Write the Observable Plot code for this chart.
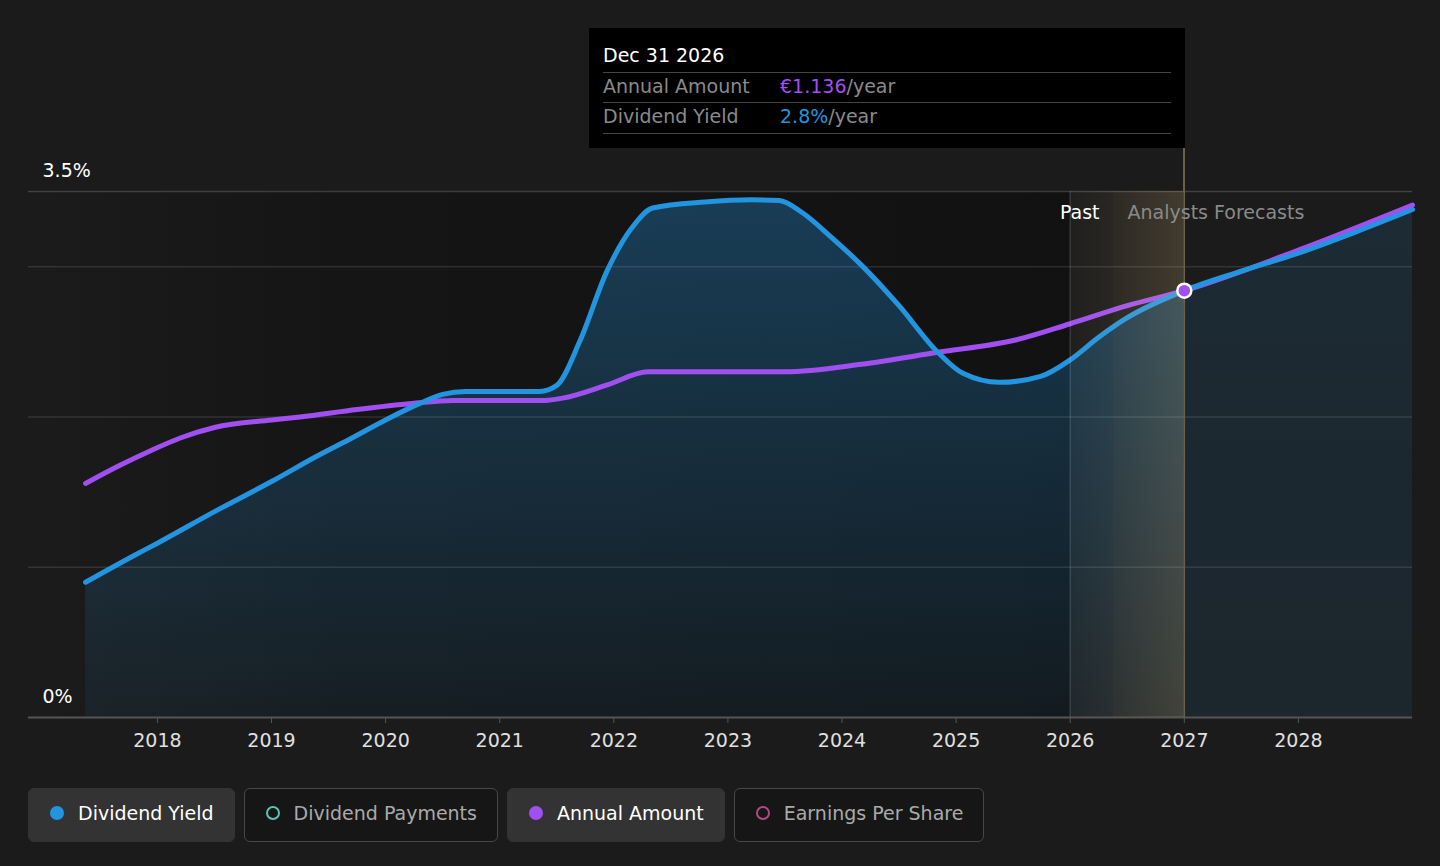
<!DOCTYPE html>
<html>
<head>
<meta charset="utf-8">
<script src="https://cdn.jsdelivr.net/npm/d3@7"></script>
<script src="https://cdn.jsdelivr.net/npm/@observablehq/plot@0.6"></script>
<style>
  html, body { margin: 0; padding: 0; background: #1b1b1b; width: 1440px; height: 866px; overflow: hidden; font-family: "DejaVu Sans", sans-serif; }
  #wrap { position: relative; width: 1440px; height: 866px; }
  #chart { position: absolute; left: 0; top: 0; }
  .tip { position: absolute; left: 589px; top: 28px; width: 596px; height: 120px; background: #000; }
  .tip .t { position: absolute; left: 14px; font-size: 19px; line-height: 22px; white-space: nowrap; }
  .tip .hr { position: absolute; left: 14px; width: 568px; height: 1px; background: #444; }
  .tip .lab { color: #8a8a8a; }
  .tip .val { position: absolute; left: 191px; font-size: 19px; line-height: 22px; color: #8a8a8a; white-space: nowrap; }
  .conn { position: absolute; top: 148px; height: 43px; width: 1.5px; background: #6b604a; }
  .legend { position: absolute; left: 28px; top: 788px; display: flex; gap: 9px; }
  .btn { box-sizing: border-box; height: 54px; border-radius: 6px; display: flex; align-items: center; padding: 0 20px 5px 21px; font-size: 19px; white-space: nowrap; }
  .btn.on { background: #333; color: #fff; border: 1.5px solid #333; }
  .btn.off { background: #161616; color: #aaa; border: 1.5px solid #474747; }
  .sw { width: 14px; height: 14px; border-radius: 50%; margin-right: 14px; box-sizing: border-box; flex: none; }
</style>
</head>
<body>
<div id="wrap">
  <div id="chart"></div>
</div>
<script>
// ---- data ----
const yieldYears = [2017.37, 2017.8, 2018.0, 2018.5, 2019.0, 2019.4, 2019.68, 2020.0, 2020.3, 2020.5, 2020.7, 2021.0, 2021.35, 2021.5, 2021.7, 2021.94, 2022.16, 2022.34, 2022.8, 2023.2, 2023.45, 2023.65, 2023.9, 2024.17, 2024.5, 2024.84, 2025.06, 2025.38, 2025.74, 2026.0, 2026.25, 2026.5, 2027.0, 2027.5, 2028.0, 2028.5, 2029.0];
const yieldPct   = [0.90, 1.08, 1.16, 1.37, 1.57, 1.74, 1.85, 1.98, 2.09, 2.15, 2.17, 2.17, 2.17, 2.21, 2.50, 2.97, 3.26, 3.39, 3.43, 3.445, 3.44, 3.36, 3.20, 3.01, 2.74, 2.43, 2.29, 2.23, 2.27, 2.38, 2.53, 2.66, 2.84, 2.97, 3.09, 3.23, 3.38];

const amountYears = [2017.37, 2017.65, 2017.94, 2018.2, 2018.5, 2019.0, 2019.25, 2019.75, 2020.23, 2020.59, 2021.4, 2021.55, 2021.95, 2022.3, 2023.5, 2024.17, 2024.84, 2025.51, 2026.0, 2026.5, 2027.0, 2028.0, 2029.0];
const amountEur   = [0.623, 0.668, 0.710, 0.744, 0.772, 0.792, 0.800, 0.820, 0.836, 0.844, 0.844, 0.850, 0.886, 0.920, 0.920, 0.940, 0.972, 1.004, 1.048, 1.096, 1.136, 1.244, 1.364];
const amountAtTop = 1.4;      // € value aligned with the 3.5% top of the yield axis

const xTicks = [2018, 2019, 2020, 2021, 2022, 2023, 2024, 2025, 2026, 2027, 2028];
const yLabels = [0, 3.5];
const gridValues = [1, 2, 3, 3.5];
const xDomain = [2016.87, 2029.0];
const yDomain = [0, 3.5];

const pastEnd = 2026.0;     // start of hovered period
const today = 2026.38;      // past / forecast split
const hoverYear = 2027.0;   // hovered point
const hoverTitle = "Dec 31 2026";

const seriesNames = ["Dividend Yield", "Dividend Payments", "Annual Amount", "Earnings Per Share"];
const seriesColors = ["#2394df", "#5ec2b0", "#a04ff0", "#b04a84"];
const seriesOn = [true, false, true, false];

// ---- tables ----
const yieldData = yieldYears.map((x, i) => ({x, y: yieldPct[i]}));
const amountData = amountYears.map((x, i) => ({x, eur: amountEur[i], y: amountEur[i] / amountAtTop * yDomain[1]}));
const yieldPast = yieldData.filter(d => d.x <= hoverYear);
const yieldFc = yieldData.filter(d => d.x >= hoverYear);
const hoverYield = yieldData.find(d => d.x === hoverYear);
const hoverAmount = amountData.find(d => d.x === hoverYear);

const BLUE = seriesColors[0], PURPLE = seriesColors[2];

const plot = Plot.plot({
  width: 1440,
  height: 760,
  marginLeft: 28,
  marginRight: 28,
  marginTop: 191,
  marginBottom: 43,
  x: {domain: xDomain},
  y: {domain: yDomain, axis: null},
  style: {background: "transparent", fontFamily: "DejaVu Sans, sans-serif", fontSize: "19px", color: "#ddd", overflow: "visible"},
  marks: [
    Plot.rect([{x1: xDomain[0], x2: pastEnd}], {x1: "x1", x2: "x2", y1: () => yDomain[0], y2: () => yDomain[1], fill: "url(#pastBg)"}),
    Plot.areaY(yieldPast, {x: "x", y: "y", curve: "monotone-x", fill: "url(#areaPast)"}),
    Plot.areaY(yieldFc, {x: "x", y: "y", curve: "monotone-x", fill: "url(#areaFc)"}),
    Plot.ruleY(gridValues, {y: d => d, stroke: "#fff", strokeOpacity: d => d === yDomain[1] ? 0.17 : 0.11, strokeWidth: 1.5}),
    Plot.ruleY([0], {stroke: "#555", strokeWidth: 2}),
    Plot.line(amountData, {x: "x", y: "y", curve: "monotone-x", stroke: PURPLE, strokeWidth: 5}),
    Plot.line(yieldData, {x: "x", y: "y", curve: "monotone-x", stroke: BLUE, strokeWidth: 5}),
    Plot.rect([{x1: pastEnd, x2: today}], {x1: "x1", x2: "x2", y1: () => yDomain[0], y2: () => yDomain[1], fill: "url(#bandA)"}),
    Plot.rect([{x1: today, x2: hoverYear}], {x1: "x1", x2: "x2", y1: () => yDomain[0], y2: () => yDomain[1], fill: "url(#bandB)"}),
    Plot.ruleX([pastEnd], {x: d => d, stroke: "#fff", strokeOpacity: 0.12, strokeWidth: 1.5}),
    Plot.ruleX([hoverYear], {x: d => d, stroke: "#6b604a", strokeWidth: 1.5}),
    Plot.dot([hoverYield], {x: "x", y: "y", r: 7, fill: PURPLE, stroke: "#fff", strokeWidth: 2.5}),
    Plot.text(yLabels, {x: () => xDomain[0], y: d => d, text: d => d + "%", dx: 14, dy: -21, textAnchor: "start", fill: "#fff", fontSize: 19}),
    Plot.text(["Past"], {x: () => today, y: () => yDomain[1], text: d => d, dx: -14, dy: 21, textAnchor: "end", fill: "#fff", fontSize: 19}),
    Plot.text(["Analysts Forecasts"], {x: () => today, y: () => yDomain[1], text: d => d, dx: 14, dy: 21, textAnchor: "start", fill: "#8a8a8a", fontSize: 19}),
    Plot.axisX(xTicks, {tickFormat: d => String(d), tickSize: 6, tickPadding: 10, stroke: "#555", fill: "#e0e0e0", fontSize: 19, label: null})
  ]
});

// gradients
const xs = plot.scale("x"), ys = plot.scale("y");
const NS = "http://www.w3.org/2000/svg";
const defs = document.createElementNS(NS, "defs");
function grad(id, x1, y1, x2, y2, stops) {
  const g = document.createElementNS(NS, "linearGradient");
  g.setAttribute("id", id);
  g.setAttribute("gradientUnits", "userSpaceOnUse");
  g.setAttribute("x1", x1); g.setAttribute("y1", y1);
  g.setAttribute("x2", x2); g.setAttribute("y2", y2);
  for (const [off, col, op] of stops) {
    const s = document.createElementNS(NS, "stop");
    s.setAttribute("offset", off);
    s.setAttribute("stop-color", col);
    s.setAttribute("stop-opacity", op);
    g.appendChild(s);
  }
  defs.appendChild(g);
}
const yTop = ys.apply(yDomain[1]), yBot = ys.apply(yDomain[0]);
grad("pastBg", xs.apply(xDomain[0]), 0, xs.apply(pastEnd), 0, [[0, "#000", 0], [0.3, "#000", 0.22], [1, "#000", 0.36]]);
grad("areaPast", 0, yTop, 0, yBot, [[0, BLUE, 0.33], [1, BLUE, 0.07]]);
grad("areaFc", 0, yTop, 0, yBot, [[0, BLUE, 0.13], [1, BLUE, 0.09]]);
grad("bandA", xs.apply(pastEnd), 0, xs.apply(today), 0, [[0, "#ffe0a0", 0.02], [1, "#ffe0a0", 0.06]]);
grad("bandB", xs.apply(today), 0, xs.apply(hoverYear), 0, [[0, "#ffd890", 0.08], [1, "#ffd890", 0.17]]);
plot.insertBefore(defs, plot.firstChild);

document.getElementById("chart").appendChild(plot);

// tooltip
const wrap = document.getElementById("wrap");
const tip = document.createElement("div");
tip.className = "tip";
tip.innerHTML =
  `<div class="t" style="top:16px;color:#fff">${hoverTitle}</div>
   <div class="hr" style="top:44px"></div>
   <div class="t lab" style="top:47px">${seriesNames[2]}</div>
   <div class="val" style="top:47px"><span style="color:${PURPLE}">€${hoverAmount.eur.toFixed(3)}</span>/year</div>
   <div class="hr" style="top:74px"></div>
   <div class="t lab" style="top:77px">${seriesNames[0]}</div>
   <div class="val" style="top:77px"><span style="color:${BLUE}">${hoverYield.y.toFixed(1)}%</span>/year</div>
   <div class="hr" style="top:105px"></div>`;
wrap.appendChild(tip);

const conn = document.createElement("div");
conn.className = "conn";
conn.style.left = (xs.apply(hoverYear) - 0.75) + "px";
wrap.appendChild(conn);

// legend
const legend = document.createElement("div");
legend.className = "legend";
seriesNames.forEach((name, i) => {
  const b = document.createElement("div");
  b.className = "btn " + (seriesOn[i] ? "on" : "off");
  const sw = document.createElement("span");
  sw.className = "sw";
  if (seriesOn[i]) sw.style.background = seriesColors[i];
  else sw.style.border = `2px solid ${seriesColors[i]}`;
  b.appendChild(sw);
  b.appendChild(document.createTextNode(name));
  legend.appendChild(b);
});
wrap.appendChild(legend);
</script>
</body>
</html>
